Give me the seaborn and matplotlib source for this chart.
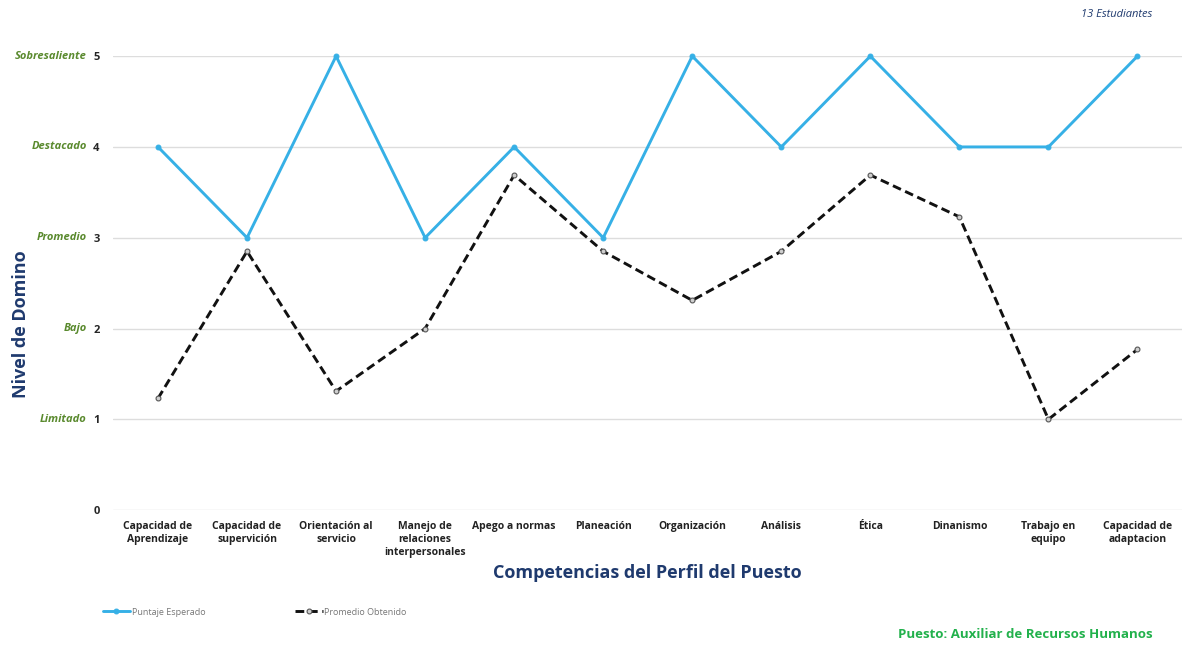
import pandas as pd
import matplotlib.pyplot as plt
import seaborn as sns

competencias = [
    "Capacidad de\nAprendizaje", "Capacidad de\nsupervición", "Orientación al\nservicio",
    "Manejo de\nrelaciones\ninterpersonales", "Apego a normas", "Planeación",
    "Organización", "Análisis", "Ética", "Dinanismo", "Trabajo en\nequipo",
    "Capacidad de\nadaptacion",
]
puntaje_esperado = [4, 3, 5, 3, 4, 3, 5, 4, 5, 4, 4, 5]
promedio_obtenido = [1.23, 2.85, 1.31, 2.0, 3.69, 2.85, 2.31, 2.85, 3.69, 3.23, 1.0, 1.77]
niveles = [1, 2, 3, 4, 5]
niveles_nombre = ["Limitado", "Bajo", "Promedio", "Destacado", "Sobresaliente"]

df = pd.DataFrame({
    "Competencia": competencias,
    "Puntaje Esperado": puntaje_esperado,
    "Promedio Obtenido": promedio_obtenido,
})

sns.set_style("white")
plt.rcParams["font.family"] = ["Open Sans", "DejaVu Sans"]

fig = plt.figure(figsize=(11.82, 6.49), dpi=100)
ax = fig.add_axes([0.096, 0.214, 0.904, 0.6995])

navy = "#1f3a6e"
green_lbl = "#5a8a2e"

sns.lineplot(data=df, x="Competencia", y="Puntaje Esperado", ax=ax, sort=False,
             color="#36b0e6", linewidth=2.1, marker="o", markersize=3.5,
             markeredgecolor="#36b0e6", label="Puntaje Esperado", clip_on=False)
sns.lineplot(data=df, x="Competencia", y="Promedio Obtenido", ax=ax, sort=False,
             color="#111111", linewidth=2.1, linestyle=(0, (3, 1.6)), marker="o",
             markersize=3.5, markerfacecolor="#cfcfcf", markeredgecolor="#555555",
             markeredgewidth=0.8, label="Promedio Obtenido", clip_on=False)

ax.set_xlim(-0.5, len(competencias) - 0.5)
ax.set_ylim(0, 5)
ax.set_yticks([0] + niveles)
ax.set_yticklabels(["0"] + [str(n) for n in niveles], fontsize=8, fontweight="bold")
ax.tick_params(axis="y", length=0, pad=10)
ax.tick_params(axis="x", length=0, pad=8)
ax.set_xticks(range(len(competencias)))
ax.set_xticklabels(competencias, fontsize=7.5, fontweight="bold", color="#222222",
                   linespacing=1.25, va="top")
ax.grid(axis="y", color="#dddddd", linewidth=1)
for s in ax.spines.values():
    s.set_visible(False)

trans = ax.get_yaxis_transform()
for n, name in zip(niveles, niveles_nombre):
    ax.text(-0.025, n, name, transform=trans, ha="right", va="center",
            fontsize=8, fontstyle="italic", fontweight="bold", color=green_lbl)

ax.set_ylabel("Nivel de Domino", fontsize=13, fontweight="bold", color=navy, labelpad=0)
ax.yaxis.set_label_coords(-0.078, 0.41)
ax.set_xlabel("Competencias del Perfil del Puesto", fontsize=13, fontweight="bold",
              color=navy, labelpad=4)

ax.get_legend().remove()
h, l = ax.get_legend_handles_labels()
fig.legend(h, l, loc="center left", bbox_to_anchor=(0.08, 0.057), ncol=2, frameon=False,
           fontsize=6.5, labelcolor="#777777", columnspacing=10, handlelength=3,
           handletextpad=0.2)

fig.text(0.975, 0.977, "13 Estudiantes", ha="right", va="center", fontsize=8,
         fontstyle="italic", color=navy)
fig.text(0.975, 0.012, "Puesto: Auxiliar de Recursos Humanos", ha="right", va="bottom",
         fontsize=9.5, fontweight="bold", color="#22b14c")

fig.savefig("out.png", dpi=100)
